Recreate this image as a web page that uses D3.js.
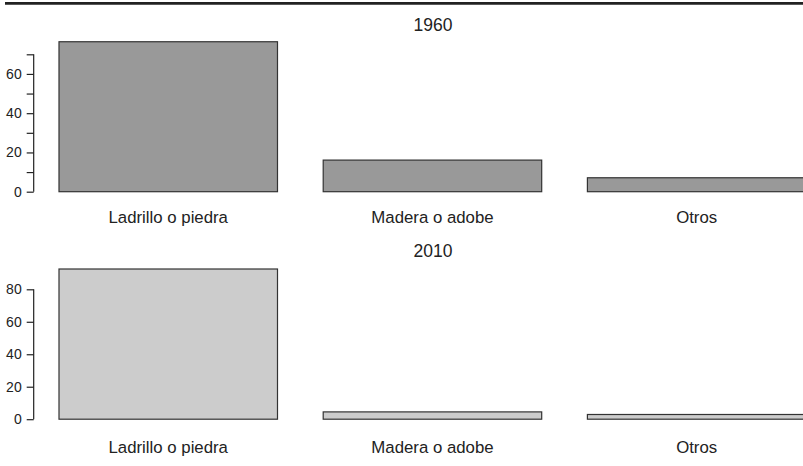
<!DOCTYPE html>
<html>
<head>
<meta charset="utf-8">
<script src="https://cdn.jsdelivr.net/npm/d3@7"></script>
<style>
  html, body { margin: 0; padding: 0; background: #fff; }
  svg { display: block; }
  text { font-family: "Liberation Sans", Arial, Helvetica, sans-serif; fill: #222; }
</style>
</head>
<body>
<svg id="chart" width="803" height="466"></svg>
<script>
const categories = ["Ladrillo o piedra", "Madera o adobe", "Otros"];
const values1960 = [76.4, 16.1, 7.1];
const values2010 = [92.5, 4.5, 2.9];
const ticks1960 = [0, 10, 20, 30, 40, 50, 60, 70];
const labels1960 = [0, 20, 40, 60];
const ticks2010 = [0, 20, 40, 60, 80];
const labels2010 = [0, 20, 40, 60, 80];
const titles = ["1960", "2010"];

const svg = d3.select("#chart");

// top rule
svg.append("line")
  .attr("x1", 5).attr("x2", 803)
  .attr("y1", 3.3).attr("y2", 3.3)
  .attr("stroke", "#222").attr("stroke-width", 2.8);

const x = d3.scaleBand()
  .domain(categories)
  .range([59, 805.9])
  .paddingInner(0.173)
  .paddingOuter(0);

const panels = [
  { title: titles[0], values: values1960, ticks: ticks1960, labels: labels1960,
    fill: "#999999", domain: [0, 70], range: [191.7, 54.3], titleY: 25, labelY: 217 },
  { title: titles[1], values: values2010, ticks: ticks2010, labels: labels2010,
    fill: "#cccccc", domain: [0, 80], range: [419.2, 289.3], titleY: 251, labelY: 447 }
];

panels.forEach(p => {
  const y = d3.scaleLinear().domain(p.domain).range(p.range);
  const g = svg.append("g");

  g.selectAll("rect.bar")
    .data(categories)
    .enter().append("rect")
    .attr("class", "bar")
    .attr("x", d => x(d))
    .attr("width", x.bandwidth())
    .attr("y", (d, i) => y(p.values[i]))
    .attr("height", (d, i) => y(0) - y(p.values[i]))
    .attr("fill", p.fill)
    .attr("stroke", "#333")
    .attr("stroke-width", 1.2);

  // y axis
  const axis = d3.axisLeft(y)
    .tickValues(p.ticks)
    .tickSize(7)
    .tickPadding(5)
    .tickFormat(d => p.labels.includes(d) ? d3.format("d")(d) : "");
  const ag = g.append("g").attr("transform", "translate(33.7,0)").call(axis);
  ag.select(".domain").attr("stroke", "#222").attr("stroke-width", 1.2)
    .attr("d", `M-0.01,${y(p.domain[1])}V${y(0)}`);
  ag.selectAll(".tick line").attr("stroke", "#222").attr("stroke-width", 1.2);
  ag.selectAll(".tick text")
    .attr("font-size", 14)
    .attr("font-family", '"Liberation Sans", Arial, sans-serif')
    .attr("fill", "#222");

  // category labels
  g.selectAll("text.cat")
    .data(categories)
    .enter().append("text")
    .attr("class", "cat")
    .attr("x", d => x(d) + x.bandwidth() / 2)
    .attr("y", p.labelY)
    .attr("text-anchor", "middle")
    .attr("dominant-baseline", "central")
    .attr("font-size", 16.8)
    .text(d => d);

  // title
  g.append("text")
    .attr("x", 433)
    .attr("y", p.titleY)
    .attr("text-anchor", "middle")
    .attr("dominant-baseline", "central")
    .attr("font-size", 17.5)
    .text(p.title);
});
</script>
</body>
</html>
